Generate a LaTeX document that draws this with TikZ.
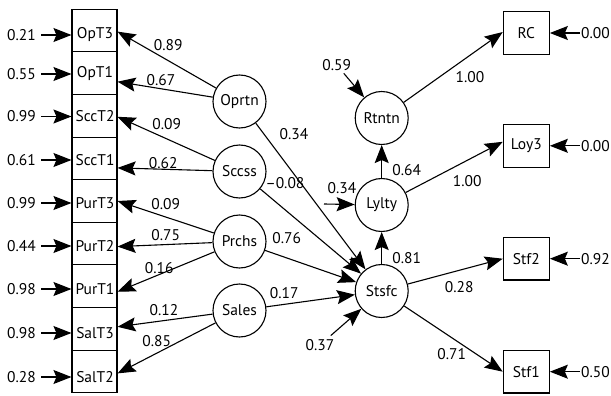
\documentclass[tikz,border=0pt]{standalone}
\usepackage{fontspec}
\setmainfont{PT Sans}
\usetikzlibrary{arrows.meta,calc}
\begin{document}
\begin{tikzpicture}[x=1pt,y=-1pt,
  every node/.style={font=\fontsize{15.5}{17}\selectfont},
  lat/.style={draw,circle,line width=1.1pt,minimum size=53pt,inner sep=0pt},
  obs/.style={draw,rectangle,line width=1.1pt,minimum width=45pt,minimum height=42.6pt,inner sep=0pt},
  lbl/.style={inner sep=1pt},
  arr/.style={line width=1.1pt,-{Stealth[length=18pt,width=14pt,inset=3pt]}}]
\useasboundingbox (0,0) rectangle (611,396);
% left indicator column
\foreach \n [count=\i from 0] in {OpT3,OpT1,SccT2,SccT1,PurT3,PurT2,PurT1,SalT3,SalT2}{
  \node[obs] (\n) at (94.5,{30.6+42.6*\i}) {};
}
\foreach \n/\t/\y in {OpT3/0.21/35,OpT1/0.55/74,SccT2/0.99/116.5,SccT1/0.61/160,PurT3/0.99/203,PurT2/0.44/246,PurT1/0.98/289,SalT3/0.98/333,SalT2/0.28/377}{
  \node[lbl] (t\n) at (95,\y) {\n};
  \node[lbl,anchor=east] (e\n) at (37,\y) {\t};
  \draw[arr,shorten <=4pt] (e\n.east) -- (\n.west |- e\n.east);
}
% latent exogenous
\node[lat] (Oprtn) at (239.5,101.5) {Oprtn};
\node[lat] (Sccss) at (239.5,171.5) {Sccss};
\node[lat] (Prchs) at (239.5,241.5) {Prchs};
\node[lat] (Sales) at (239.5,310.5) {Sales};
% latent endogenous
\node[lat] (Rtntn) at (381.7,118) {Rtntn};
\node[lat] (Lylty) at (381.7,205) {Lylty};
\node[lat] (Stsfc) at (381.7,291) {Stsfc};
% right indicators
\node[obs,minimum width=46pt] (RC) at (526.3,33) {RC};
\node[obs,minimum width=46pt] (Loy3) at (526.3,145.8) {Loy3};
\node[obs,minimum width=46pt] (Stf2) at (526.3,258.7) {Stf2};
\node[obs,minimum width=46pt] (Stf1) at (526.3,371.7) {Stf1};
\node[lbl,anchor=west] (eRC) at (580,33) {0.00};
\node[lbl,anchor=west] (eLoy3) at (580,145.8) {0.00};
\node[lbl,anchor=west] (eStf2) at (580,258.7) {0.92};
\node[lbl,anchor=west] (eStf1) at (580,371.7) {0.50};
\foreach \n in {RC,Loy3,Stf2,Stf1}{
  \draw[arr] (e\n.west) -- (\n.east |- e\n.west);
}
% loadings
\draw[arr] (Oprtn) -- ($(OpT3.east)+(0,1)$);
\draw[arr] (Oprtn) -- ($(OpT1.east)+(0,8.5)$);
\draw[arr] (Sccss) -- ($(SccT2.east)+(0,1)$);
\draw[arr] (Sccss) -- ($(SccT1.east)+(0,9.5)$);
\draw[arr] (Prchs) -- ($(PurT3.east)+(0,0)$);
\draw[arr] (Prchs) -- ($(PurT2.east)+(0,3)$);
\draw[arr] (Prchs) -- ($(PurT1.east)+(0,5.5)$);
\draw[arr] (Sales) -- ($(SalT3.east)+(0,-2)$);
\draw[arr] (Sales) -- ($(SalT2.east)+(0,2)$);
\node[lbl] (l1) at (168.3,45) {0.89};
\node[lbl] (l2) at (161,80) {0.67};
\node[lbl] (l3) at (166.7,124) {0.09};
\node[lbl] (l4) at (163.3,163.3) {0.62};
\node[lbl] (l5) at (165.7,204) {0.09};
\node[lbl] (l6) at (165.7,235) {0.75};
\node[lbl] (l7) at (159.3,268.3) {0.16};
\node[lbl] (l8) at (164,310) {0.12};
\node[lbl] (l9) at (156.7,340.7) {0.85};
% structural paths
\draw[arr] (Oprtn) -- (Stsfc);
\draw[arr] (Sccss) -- (Stsfc);
\draw[arr] (Prchs) -- (Stsfc);
\draw[arr] (Sales) -- (Stsfc);
\draw[arr] (Stsfc) -- (Lylty);
\draw[arr] (Lylty) -- (Rtntn);
\node[lbl] (s1) at (294,134) {0.34};
\node[lbl] (s2) at (285,183.3) {–0.08};
\node[lbl] (s3) at (286.7,237.7) {0.76};
\node[lbl] (s4) at (284.3,293.3) {0.17};
\node[lbl] (s5) at (406.7,257.7) {0.81};
\node[lbl] (s6) at (406.7,170) {0.64};
% endogenous loadings
\draw[arr] (Rtntn) -- ($(RC.west)+(0,-1)$);
\draw[arr] (Lylty) -- ($(Loy3.west)+(0,-4)$);
\draw[arr] (Stsfc) -- (Stf2.west);
\draw[arr] (Stsfc) -- (Stf1.west);
\node[lbl] (r1) at (470,76.7) {1.00};
\node[lbl] (r2) at (467.3,181) {1.00};
\node[lbl] (r3) at (459.3,286.7) {0.28};
\node[lbl] (r4) at (451.7,354) {0.71};
% residuals of latent endogenous
\node[lbl] (eRt) at (336.7,65) {0.59};
\draw[arr,shorten <=2pt] (eRt) -- (Rtntn);
\node[lbl] (eSt) at (320,345) {0.37};
\draw[arr,shorten <=4pt] (eSt) -- (Stsfc);
\node[lbl] (eLy) at (342,188) {0.34};
\coordinate (lyS) at (324,204);
\draw[arr] (lyS) -- (Lylty);
\end{tikzpicture}
\end{document}
